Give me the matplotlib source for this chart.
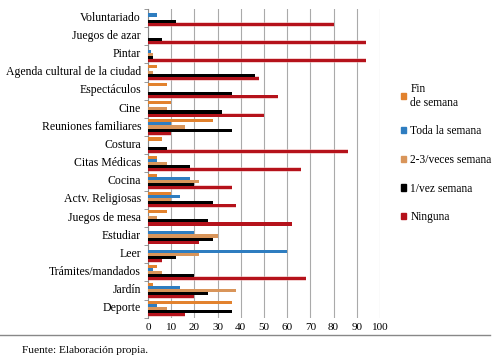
import matplotlib
matplotlib.use("Agg")
import matplotlib.pyplot as plt
import numpy as np
from matplotlib.patches import Patch

categories = ["Voluntariado", "Juegos de azar", "Pintar", "Agenda cultural de la ciudad",
              "Espectáculos", "Cine", "Reuniones familiares", "Costura", "Citas Médicas",
              "Cocina", "Actv. Religiosas", "Juegos de mesa", "Estudiar", "Leer",
              "Trámites/mandados", "Jardín", "Deporte"]

fin_semana   = [0, 0, 0, 4, 8, 10, 28, 6, 4, 4, 10, 8, 0, 0, 4, 2, 36]
toda_semana  = [4, 0, 1.5, 0, 0, 0, 10, 0, 4, 18, 14, 0, 20, 60, 2, 14, 4]
dos_tres     = [0, 0, 2, 2, 0, 8, 16, 0, 8, 22, 10, 4, 30, 22, 6, 38, 8]
una_vez      = [12, 6, 2, 46, 36, 32, 36, 8, 18, 20, 28, 26, 28, 12, 20, 26, 36]
ninguna      = [80, 94, 94, 48, 56, 50, 10, 86, 66, 36, 38, 62, 22, 6, 68, 20, 16]

series_names = ["Fin\nde semana", "Toda la semana", "2-3/veces semana", "1/vez semana", "Ninguna"]
series_vals = [fin_semana, toda_semana, dos_tres, una_vez, ninguna]
colors = ["#E2822E", "#2E7DC0", "#D9955A", "#000000", "#B5121B"]

xticks = list(range(0, 101, 10))

plt.rcParams['font.family'] = ['Liberation Serif', 'DejaVu Serif']

fig = plt.figure(figsize=(5.0, 3.61), dpi=100)
ax = fig.add_axes([0.296, 0.12, 0.464, 0.855])

n = len(categories)
y = np.arange(n)
h = 0.17
for i, (vals, c) in enumerate(zip(series_vals, colors)):
    offs = (i - 2) * h
    if i == 4:
        ax.barh(y + offs, vals, height=h * 1.5, color="#E8A0A0", alpha=0.5, zorder=2)
    ax.barh(y + offs, vals, height=h, color=c, zorder=3)

ax.set_ylim(n - 0.5, -0.5)
ax.set_xlim(0, 100)
ax.set_xticks(xticks)
ax.set_xticklabels([str(t) for t in xticks], fontsize=8)
ax.set_yticks(y - 0.1)
ax.set_yticklabels(categories, fontsize=8.5)
ax.set_yticks(np.arange(-0.5, n, 1), minor=True)
ax.tick_params(axis='y', which='major', length=0, pad=5)
ax.tick_params(axis='y', which='minor', length=3, color="#888888")
ax.tick_params(axis='x', length=0, pad=4)
ax.grid(axis='x', color="#AAAAAA", linewidth=0.8, zorder=0)
for s in ["top", "right", "bottom"]:
    ax.spines[s].set_visible(False)
ax.spines["left"].set_color("#888888")

handles = [Patch(color=c, label=nm) for c, nm in zip(colors, series_names)]
fig.legend(handles=handles, loc="center left", bbox_to_anchor=(0.8, 0.576),
           frameon=False, fontsize=8.3, handlelength=0.45, handleheight=0.45,
           labelspacing=1.45, handletextpad=0.35, borderpad=0.1, borderaxespad=0)

fig.add_artist(plt.Line2D([0.0, 0.98], [0.072, 0.072], color="#888888", linewidth=1.0))
fig.text(0.044, 0.022, "Fuente: Elaboración propia.", fontsize=8.2)

fig.savefig("out.png", dpi=100)
